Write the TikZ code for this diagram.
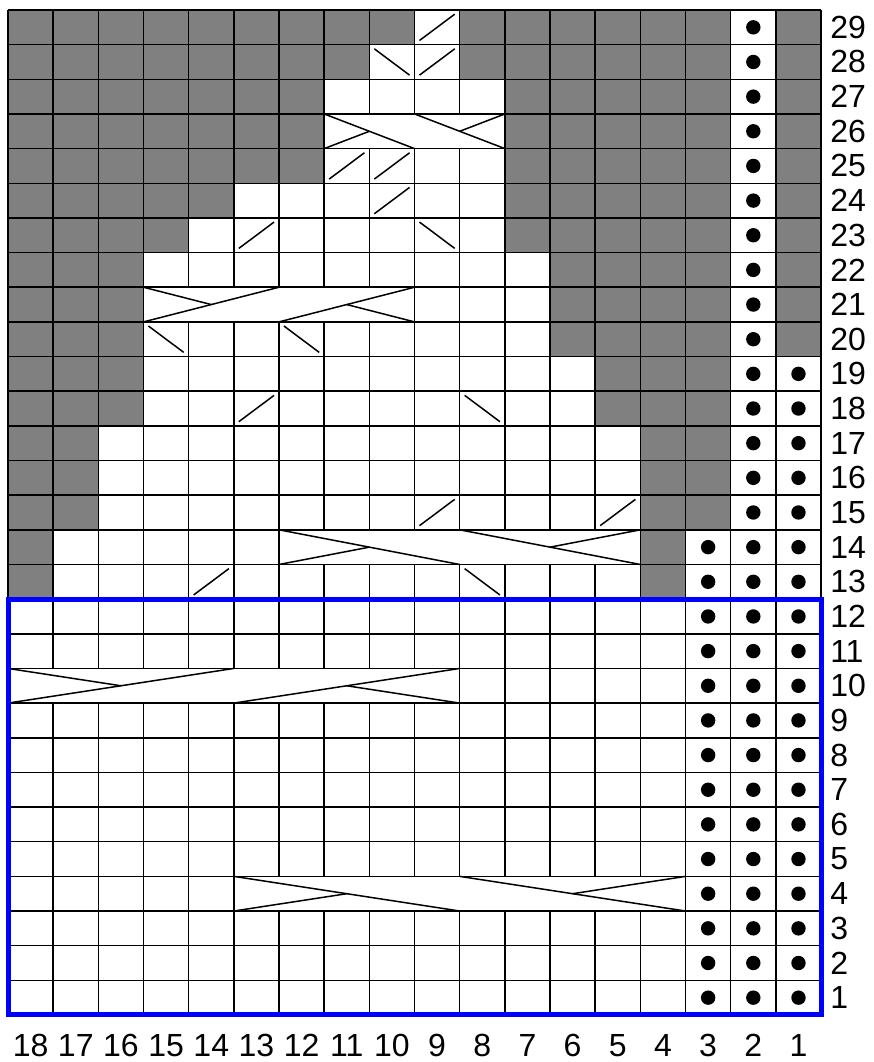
\documentclass[tikz,border=0pt]{standalone}
\usepackage{fontspec}
\setmainfont{Liberation Sans}
\definecolor{chGray}{RGB}{128,128,128}
\definecolor{chBlue}{RGB}{0,0,255}
\begin{document}
\begin{tikzpicture}[x=1pt,y=1pt,font=\fontsize{32}{36}\selectfont,
  ln/.style={line width=1.5pt},
  nost/.style={fill=chGray},
  cab/.style={ln,fill=white},
  pst/.style={fill=black},
  num/.style={inner sep=0pt},
  frm/.style={draw=chBlue,line width=5pt}]
\useasboundingbox (0,0) rectangle (874,1062);
\begin{scope}[shift={(8pt,47pt)},x=45.17pt,y=34.655pt]
% no stitch: row / from stitch / to stitch
\foreach \r/\a/\b in {29/18/10,29/8/3,29/1/1,28/18/11,28/8/3,28/1/1,
  27/18/12,27/7/3,27/1/1,26/18/12,26/7/3,26/1/1,25/18/12,25/7/3,25/1/1,
  24/18/14,24/7/3,24/1/1,23/18/15,23/7/3,23/1/1,22/18/16,22/6/3,22/1/1,
  21/18/16,21/6/3,21/1/1,20/18/16,20/6/3,20/1/1,19/18/16,19/5/3,18/18/16,18/5/3,
  17/18/17,17/4/3,16/18/17,16/4/3,15/18/17,15/4/3,14/18/18,14/4/4,13/18/18,13/4/4}
  \fill[nost] ({18-\a},{\r-1}) rectangle ({19-\b},\r);
% grid
\foreach \i in {0,...,18} \draw[ln] (\i,0) -- (\i,29);
\foreach \j in {0,...,29} \draw[ln] (0,\j) -- (18,\j);
% cables: row / first stitch / half width / kind
\foreach \r/\a/\m/\t in {26/11/2/0,21/15/3/1,14/12/4/0,10/18/5/1,4/13/5/0}{
  \pgfmathsetmacro\xl{18-\a}\pgfmathsetmacro\yb{\r-1}
  \draw[cab] (\xl,\yb) rectangle ++({2*\m},1);
  \ifnum\t=0
    \draw[ln] (\xl,\r) -- ++(\m,-1) ++(0,1) -- ++(\m,-1);
    \draw[ln] (\xl,\yb) -- ++({\m/2},.5);
    \draw[ln] ({\xl+1.5*\m},{\yb+.5}) -- ++({\m/2},.5);
  \else
    \draw[ln] (\xl,\yb) -- ++(\m,1) ++(0,-1) -- ++(\m,1);
    \draw[ln] (\xl,\r) -- ++({\m/2},-.5);
    \draw[ln] ({\xl+1.5*\m},{\yb+.5}) -- ++({\m/2},-.5);
  \fi}
% decreases
\foreach \n/\r in {9/29,9/28,11/25,10/25,10/24,13/23,13/18,9/15,5/15,14/13}
  \draw[ln] ({18.11-\n},{\r-.88}) -- ({18.89-\n},{\r-.12});
\foreach \n/\r in {10/28,9/23,15/20,12/20,8/18,8/13}
  \draw[ln] ({18.11-\n},{\r-.12}) -- ({18.89-\n},{\r-.88});
% purl dots
\foreach \n/\t in {3/14,2/29,1/19}
  \foreach \r in {1,...,\t} \fill[pst] ({18.5-\n},{\r-.5}) circle (7.2pt);
\draw[frm] (0,0) rectangle (18,12);
% numbers
\foreach \r in {1,...,29} \node[num,anchor=west] (row\r) at (18.2,{\r-.5}) {\r};
\foreach \n in {1,...,18} \node[num] (st\n) at ({18.5-\n},-.87) {\n};
\end{scope}
\end{tikzpicture}
\end{document}
